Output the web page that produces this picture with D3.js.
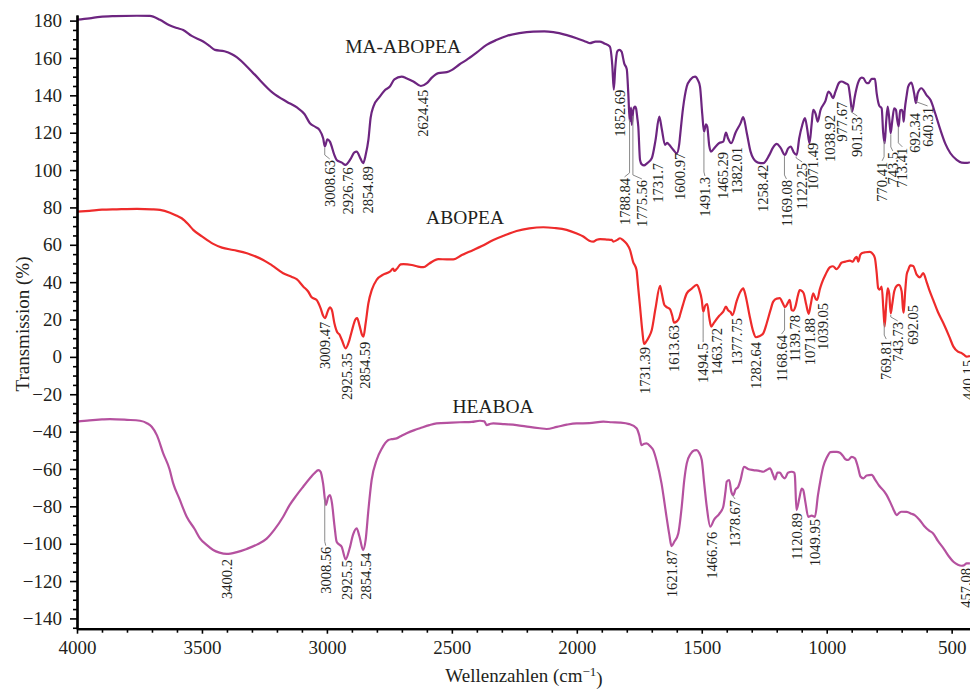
<!DOCTYPE html>
<html>
<head>
<meta charset="utf-8">
<script src="https://cdn.jsdelivr.net/npm/d3@7"></script>
<style>
  body { margin: 0; background: #fff; }
  svg { display: block; }
  text { font-family: "Liberation Serif", "DejaVu Serif", serif; fill: #231f20; }
</style>
</head>
<body>
<div id="plot"></div>
<script>
// spectra: wavenumber (cm-1) and transmission (%)

  var maWave = [4000,3950,3908,3850,3760,3708,3668,3630,3600,3575,3541,3495,3470,3448,3410,3380,3361,3295,3215,3161,3120,3090,3068,3045,3030,3015,3008,2998,2988,2970,2961,2940,2926,2905,2890,2881,2865,2855,2845,2834,2825,2814,2790,2770,2748,2730,2701,2680,2654,2624,2600,2580,2554,2520,2501,2470,2441,2400,2361,2320,2281,2230,2174,2130,2094,2040,2001,1960,1948,1925,1908,1890,1868,1858,1852,1846,1838,1830,1821,1810,1800,1794,1788,1783,1780,1774,1767,1763,1758,1754,1747,1740,1731,1720,1700,1685,1670,1660,1647,1638,1630,1615,1600,1590,1587,1575,1560,1545,1527,1515,1507,1498,1491,1483,1478,1470,1463,1445,1430,1414,1403,1395,1382,1365,1345,1334,1320,1305,1294,1275,1254,1230,1215,1200,1185,1167,1155,1144,1132,1120,1110,1098,1087,1078,1069,1060,1054,1044,1036,1025,1005,993,985,975,965,950,941,925,914,905,898,888,875,860,853,840,833,820,807,800,790,780,774,768,762,756,750,744,738,730,723,718,712,706,700,695,692,688,680,674,661,650,643,636,621,600,585,565,545,525,505,480,460,438,427];
  var maT = [180.5,181.2,182.0,182.4,182.6,182.5,180.4,177.5,176.0,175.0,171.8,168.8,166.5,164.3,163.6,162.0,160.4,151.9,141.2,136.6,133.5,130,125.1,123,121.5,117,112.6,116.5,115.2,108,105.4,104,102.8,106,109.5,109.9,106,103.7,108,116.1,128,134,139,142.5,144.7,148.5,150,149,147.4,145,146.5,149.5,151.9,152.4,153.5,156.5,159,163,167,169.7,171.8,173.3,174.1,174.2,173.8,172.2,170.6,168.5,167.9,168.8,168.8,167.8,166.1,156,143,155,163.5,164.3,163.4,157,154,141.2,126,133.5,124.2,132.2,134,133.1,128,123.3,105.4,103,102.5,103.5,106.3,116,128.6,122,113.5,114.5,113.5,111,109,114,117.9,133,144.7,148.5,150,148,144.7,130,120.6,124.5,123.3,113,109.9,112.5,114.5,115.2,120.1,117,114.4,120,125,128.3,120,110,106.3,104,103.7,108,112,114,112,108.1,111.5,112.6,109.5,108.1,117,124,127.8,122,114.4,125,132.2,130,125.9,132,137,142,141,138.5,142,146.8,147.4,146.5,145.6,138,131.3,139,146.5,149.5,149.2,146.5,146.5,148.8,148.8,141,134.5,133,120,114.4,126,134,128,119.7,126,133,132.2,127,123.3,132,132.2,130,125.9,132,140,144.7,146.8,141,135.8,141,143.8,140,137.6,130,121.5,114,109,105.5,104,103.8,104.2];

  var abWave = [4000,3950,3900,3841,3760,3700,3668,3628,3600,3581,3555,3535,3500,3455,3420,3375,3320,3290,3255,3220,3175,3140,3121,3094,3075,3061,3041,3025,3015,3008,2995,2988,2980,2970,2958,2950,2940,2925,2910,2900,2885,2879,2870,2860,2854,2845,2834,2820,2801,2775,2748,2735,2730,2721,2705,2694,2660,2635,2614,2590,2554,2520,2494,2460,2414,2380,2334,2290,2241,2190,2134,2090,2041,2000,1974,1950,1934,1920,1907,1880,1860,1854,1840,1827,1815,1800,1787,1775,1761,1755,1747,1738,1731,1723,1712,1700,1685,1667,1660,1650,1643,1627,1618,1611,1600,1590,1587,1575,1560,1540,1520,1510,1500,1494,1486,1478,1470,1462,1450,1430,1414,1403,1395,1385,1377,1360,1345,1334,1325,1310,1295,1283,1270,1254,1240,1225,1214,1200,1188,1175,1167,1155,1148,1140,1134,1125,1115,1108,1100,1092,1082,1072,1064,1054,1044,1038,1028,1020,1005,987,975,960,950,941,925,907,895,887,880,874,866,860,845,827,815,807,800,794,788,780,773,768,762,756,750,744,738,730,720,711,700,695,692,686,680,674,665,654,640,627,614,600,590,574,555,533,510,493,475,460,448,440,430,427];
  var abT = [77.7,78.2,78.8,79,79.2,79,78.7,77.2,75.5,74.2,71,68,64.5,60.5,58.5,57.2,55.5,54,51.9,49,44.8,42.8,41.6,37.6,35,31.9,30.5,26,22,20.7,25,26.5,25,18,13,12,9,4.6,9,14,20.2,20.7,17,12,10.8,18,28.7,36,41.2,44,45.6,47.2,46,47,49.5,49.7,49.2,48.3,48,50,52.3,52.2,52.2,54.5,57.2,59.3,62.6,65,67.4,68.8,69.4,69,68,66,64.4,62.2,61.7,62.7,63,62.8,62.6,61.7,62.5,63.5,62.5,60.5,57.2,51,46.5,38,26.9,14,6.9,8,10.5,14.4,26,38,34,28,26.9,25.5,22,18.3,19,21,22.4,28,34,36.5,38.5,36,30.5,24.2,27.5,28.3,21,16.2,18.5,22,24.2,26.9,25,24,22.4,30,35,36.7,33,23,14,10.5,11,12.6,18,25,29.6,31.2,31.4,28.5,26.6,29,30.5,25,24.7,27,33,35.8,35.3,34,28,23,28,34,31,30.5,36,39.4,44,48,48.5,46.9,48.5,50.4,51,51.5,51,52.8,53.5,51,54.5,55.5,56,56.2,55,52.8,45,36.7,36,37.6,25,16.2,28,36.7,34,23.3,28,35,38,38.5,35,26,23.7,35,44,46.5,49,48.7,44,42.6,44.8,40,36,30.5,24,18,11,5.5,2.8,2,0.8,0.1,0.3,0.8];

  var heWave = [4000,3950,3900,3868,3800,3748,3720,3701,3680,3655,3630,3615,3590,3561,3530,3508,3480,3455,3430,3401,3360,3321,3280,3241,3210,3175,3150,3121,3095,3068,3050,3034,3025,3015,3004,2995,2988,2980,2970,2961,2950,2941,2925,2910,2895,2881,2870,2855,2845,2834,2821,2801,2780,2754,2740,2721,2705,2681,2650,2628,2590,2561,2500,2468,2420,2388,2370,2361,2345,2334,2290,2241,2190,2148,2121,2080,2040,2001,1950,1894,1860,1827,1790,1761,1750,1741,1730,1721,1705,1694,1680,1661,1641,1630,1621,1610,1594,1580,1570,1560,1545,1530,1520,1510,1500,1490,1480,1466,1450,1430,1414,1405,1400,1390,1382,1374,1365,1354,1345,1331,1315,1294,1270,1254,1240,1227,1215,1207,1197,1187,1177,1167,1155,1140,1130,1127,1121,1110,1100,1094,1085,1074,1060,1047,1035,1025,1014,1000,985,974,960,947,935,925,914,900,887,875,865,853,840,820,805,790,770,760,745,730,720,710,701,680,660,648,630,610,590,574,555,530,510,493,475,460,450,440,427];
  var heT = [-34.7,-34,-33.5,-33.3,-33.7,-34.2,-35.5,-37.4,-42,-51.6,-60,-67.7,-76,-85.6,-92,-97.1,-100.8,-103.4,-104.8,-105.5,-104.5,-102.8,-100.5,-97.3,-92.5,-85.6,-79.5,-74,-69.5,-65,-62.3,-60.6,-61.5,-68,-79.3,-75,-74,-78,-90,-99,-100.5,-101.6,-108.4,-103,-95,-91.8,-96,-103.4,-98,-82,-65.9,-55.2,-49,-44.5,-44,-43.6,-42.5,-40.9,-39.2,-38.2,-36.5,-35.6,-35.2,-35,-34.8,-34.2,-34.5,-36.5,-35.8,-35.6,-36,-36.5,-37.5,-38.2,-38.6,-37.5,-36.3,-35.6,-35.5,-34.7,-35,-35.2,-36,-38.2,-42,-47.2,-46.5,-46.3,-48,-49.9,-56,-67.7,-85.6,-95,-101.3,-99,-94.5,-80,-66,-57,-52,-50,-49.9,-51.5,-55.2,-68,-80.2,-90.9,-87,-84,-80.2,-72,-66.8,-65.9,-72,-74,-71,-69.5,-66,-58.8,-60,-60.6,-61,-61.5,-60.5,-59.7,-63,-65.6,-62,-62,-64,-65,-62,-61.5,-62,-64.2,-82,-76,-70.5,-71.3,-78,-85.6,-85,-85.6,-74,-66,-58.8,-54,-51,-50.8,-50.8,-51.3,-53,-54.8,-55.2,-53.5,-54.3,-59,-64,-65,-63.5,-63.2,-66,-69,-72,-74,-78,-82.5,-84.7,-83.5,-82.9,-83,-84,-84.7,-87,-90.5,-93,-94.5,-98.5,-103,-107,-109.7,-111.3,-111.8,-111.5,-110.5,-110.5];

// peak labels (as printed) and where each label hangs: [shift in px, top of label in %]

  var maPeaks = ["3008.63","2926.76","2854.89","2624.45","1852.69","1788.84","1775.56","1731.7","1600.97","1491.3","1465.29","1382.01","1258.42","1169.08","1122.25","1071.49","1038.92","977.67","901.53","770.41","743.5","713.41","692.34","640.31"];
  var maPlace = [[5,105.4],[3,101.5],[5,102],[2,143],[6,143],[-5,95.8],[9,94.7],[14,103.8],[3,109.2],[1,96.3],[12,109.7],[6,112.4],[1,102.8],[2,94.7],[6,103.8],[4,114.6],[13,129.5],[10,136.5],[6,128.4],[-2,104.4],[2,109.7],[4,111.9],[11,130.6],[11,133.8]];

  var abPeaks = ["3009.47","2925.35","2854.59","1731.39","1613.63","1494.5","1463.72","1377.75","1282.64","1168.64","1139.78","1071.88","1039.05","769.81","743.73","692.05","440.15"];
  var abPlace = [[0,18.8],[1,2.1],[2,8.1],[1,5.3],[1,17.1],[0,7.4],[6,15.5],[5,20.8],[0,8],[-3,11.7],[3,22.4],[1,20.8],[6,28.9],[2,9],[7,18.7],[9,27.8],[1,-1.7]];

  var hePeaks = ["3400.2","3008.56","2925.5","2854.54","1621.87","1466.76","1378.67","1120.89","1049.95","457.08"];
  var hePlace = [[0,-108.2],[1,-101.6],[1,-108.8],[3,-104.8],[1,-103.4],[2,-93.6],[3,-76.6],[0,-83.6],[1,-86.8],[4,-113]];

  var seriesNames = ["MA-ABOPEA", "ABOPEA", "HEABOA"];
  var seriesColors = ["#6d2580", "#ee2b2b", "#b5519f"];
  // where the sample names sit: [wavenumber, %]
  var namePlace = [[2695, 162.5], [2447, 71], [2335, -30]];

  var xMajor = [4000,3500,3000,2500,2000,1500,1000,500];
  var yMajor = d3.range(-140, 181, 20);

  var w = 970;
  var h = 690;

  var x = d3.scaleLinear()
      .domain([4000, 426.6])
      .range([77, 970]);

  var y = d3.scaleLinear()
      .domain([-145.5, 183])
      .range([628.7, 15]);

  var svg = d3.select("div#plot")
    .append("svg")
      .attr("width", w)
      .attr("height", h);

  svg.append("defs").append("clipPath")
      .attr("id", "clip")
    .append("rect")
      .attr("x", 77)
      .attr("y", 0)
      .attr("width", w - 77)
      .attr("height", 629);

// curves

  var series = [
    {wave: maWave, t: maT, peaks: maPeaks, place: maPlace},
    {wave: abWave, t: abT, peaks: abPeaks, place: abPlace},
    {wave: heWave, t: heT, peaks: hePeaks, place: hePlace}
  ];

  var line = d3.line()
      .x(d => x(d[0]))
      .y(d => y(d[1]))
      .curve(d3.curveMonotoneX);

  function valueAt(s, wn) {
    for (var i = 0; i < s.wave.length - 1; i++) {
      if (s.wave[i] >= wn && s.wave[i + 1] <= wn) {
        var f = (s.wave[i] - wn) / (s.wave[i] - s.wave[i + 1]);
        return s.t[i] + f * (s.t[i + 1] - s.t[i]);
      }
    }
    return s.t[s.t.length - 1];
  }

  var curves = svg.append("g")
      .attr("clip-path", "url(#clip)");

  series.forEach(function(s, k) {
    curves.append("path")
        .datum(s.wave.map((d, i) => [d, s.t[i]]))
        .attr("fill", "none")
        .attr("stroke", seriesColors[k])
        .attr("stroke-width", 2.2)
        .attr("stroke-linejoin", "round")
        .attr("d", line);
  });

// peak labels with leader lines

  var notes = svg.append("g");

  series.forEach(function(s, k) {
    s.peaks.forEach(function(p, i) {
      var wn = +p;
      var px = x(wn);
      var py = y(valueAt(s, wn));
      var lx = px + s.place[i][0];
      var ly = y(s.place[i][1]);

      if (ly - py > 7) {
        notes.append("path")
            .attr("d", `M${px},${py + 2} V${ly - 5} L${lx},${ly - 1}`)
            .attr("fill", "none")
            .attr("stroke", "#8a8a8a")
            .attr("stroke-width", 1);
      }

      notes.append("text")
          .attr("transform", `translate(${lx},${ly}) rotate(-90)`)
          .attr("text-anchor", "end")
          .attr("dy", "0.35em")
          .attr("font-size", "14.5px")
          .text(p);
    });
  });

// sample names

  seriesNames.forEach(function(n, k) {
    svg.append("text")
        .attr("x", x(namePlace[k][0]))
        .attr("y", y(namePlace[k][1]))
        .attr("text-anchor", "middle")
        .attr("font-size", "19.5px")
        .text(n);
  });

// axes

  var xAxis = d3.axisBottom(x)
      .tickValues(xMajor)
      .tickSize(5)
      .tickSizeOuter(0)
      .tickPadding(7)
      .tickFormat(d3.format("d"));

  var xMinor = d3.axisBottom(x)
      .tickValues(d3.range(4000, 426, -100).filter(d => d % 500 != 0))
      .tickSize(4)
      .tickSizeOuter(0)
      .tickFormat("");

  var yAxis = d3.axisLeft(y)
      .tickValues(yMajor)
      .tickSize(7)
      .tickSizeOuter(0)
      .tickPadding(8);

  var yMinor = d3.axisLeft(y)
      .tickValues(d3.range(-145, 183, 5).filter(d => d % 20 != 0))
      .tickSize(4)
      .tickSizeOuter(0)
      .tickFormat("");

  svg.append("g")
      .attr("transform", "translate(0,628.7)")
      .call(xAxis);
  svg.append("g")
      .attr("transform", "translate(0,628.7)")
      .call(xMinor);

  svg.append("g")
      .attr("transform", "translate(77,0)")
      .call(yAxis);
  svg.append("g")
      .attr("transform", "translate(77,0)")
      .call(yMinor);

  svg.selectAll(".domain")
      .attr("stroke", "#000")
      .attr("stroke-width", 2.2);
  svg.selectAll(".tick line")
      .attr("stroke", "#000")
      .attr("stroke-width", 1.6);
  svg.selectAll(".tick text")
      .attr("font-family", "Liberation Serif, serif")
      .attr("font-size", "19px")
      .attr("fill", "#231f20");

// axis titles

  var xt = svg.append("text")
      .attr("x", 524)
      .attr("y", 682)
      .attr("text-anchor", "middle")
      .attr("font-size", "19px");
  xt.append("tspan").text("Wellenzahlen (cm");
  xt.append("tspan").attr("dy", "-0.45em").attr("font-size", "13px").text("\u22121");
  xt.append("tspan").attr("dy", "0.45em").text(")");

  svg.append("text")
      .attr("transform", "translate(29,324) rotate(-90)")
      .attr("text-anchor", "middle")
      .attr("font-size", "19px")
      .text("Transmission (%)");
</script>
</body>
</html>
